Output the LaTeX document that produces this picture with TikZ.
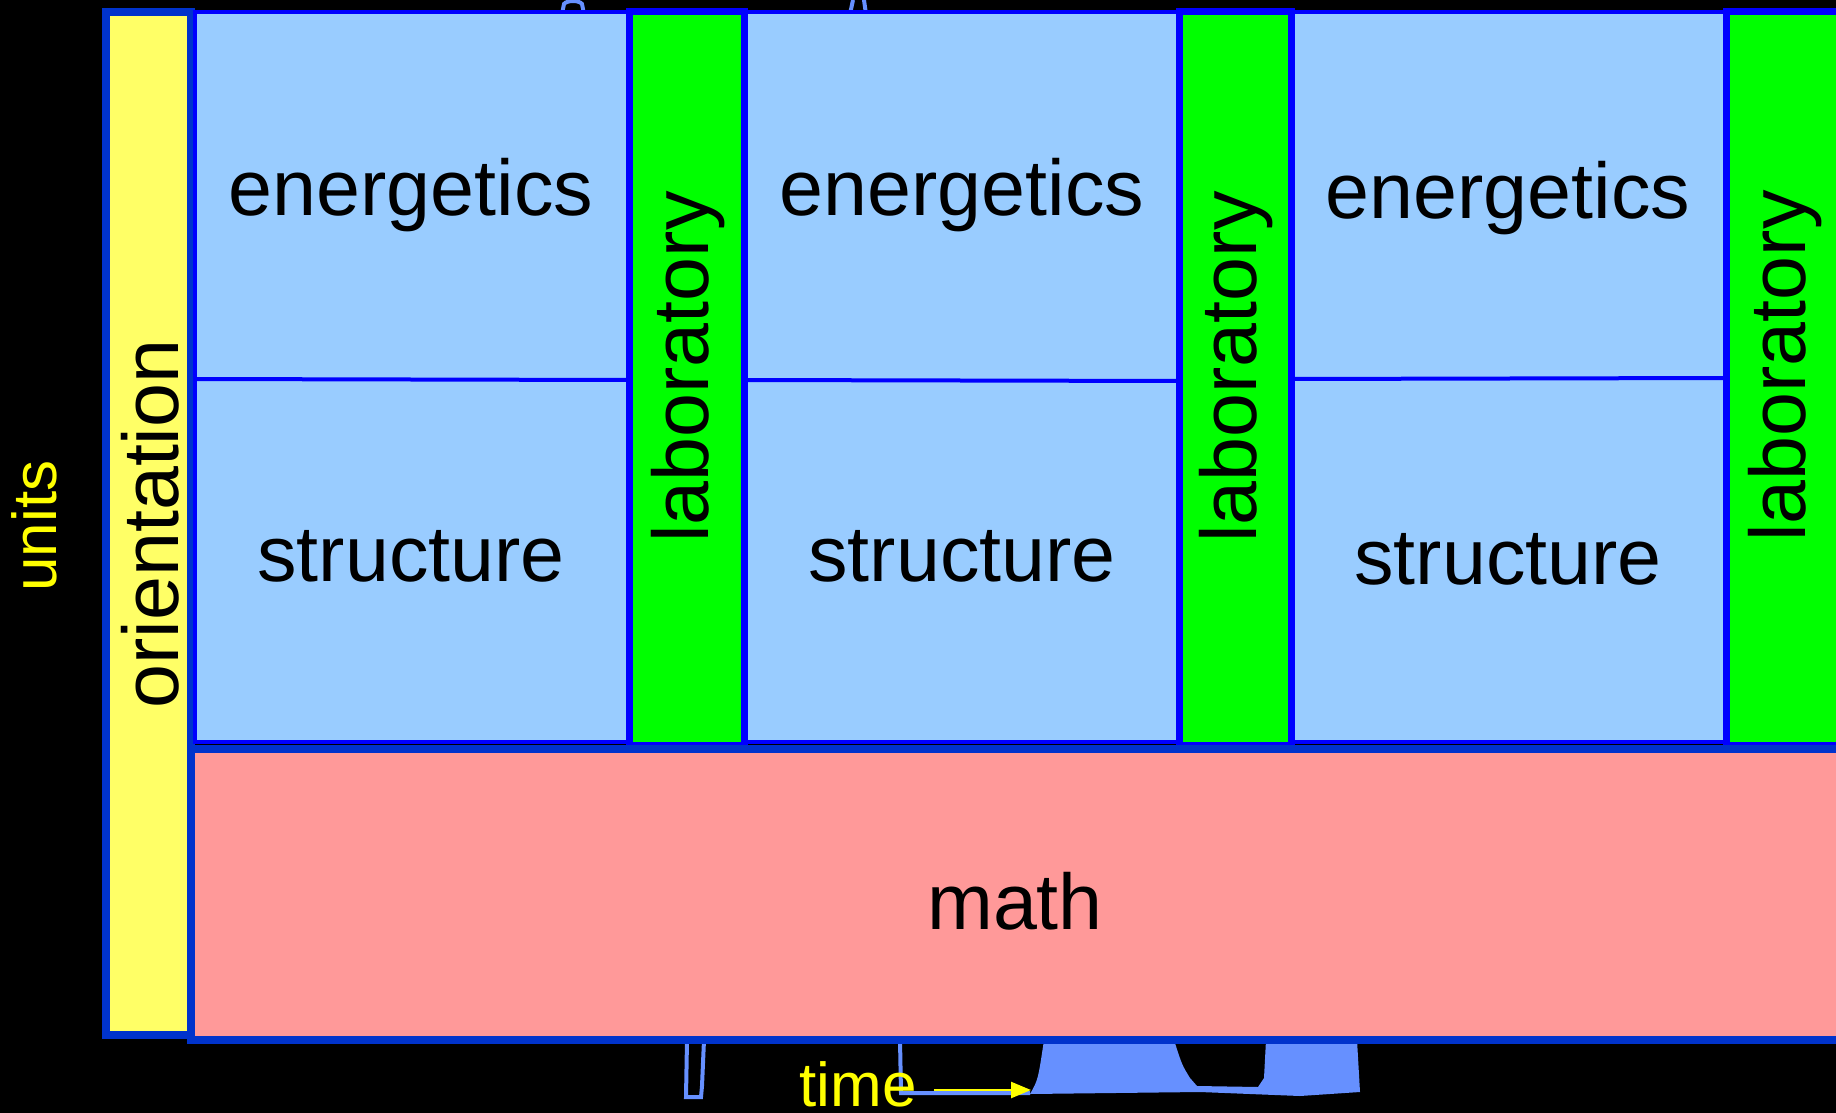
\documentclass[tikz,border=0pt]{standalone}
\usepackage{fontspec}
\setmainfont{Liberation Sans}
\usetikzlibrary{arrows.meta}
\definecolor{yfill}{HTML}{FFFF66}
\definecolor{bfill}{HTML}{99CCFF}
\definecolor{gfill}{HTML}{00FF00}
\definecolor{pfill}{HTML}{FF9999}
\definecolor{lblue}{HTML}{0000FF}
\definecolor{dblue}{HTML}{0033CC}
\definecolor{silh}{HTML}{6690FF}
\definecolor{tyellow}{HTML}{FFFF00}
\tikzset{
  colbox/.style={fill=bfill,draw=lblue,line width=2pt},
  labbox/.style={fill=gfill,draw=lblue,line width=3.5pt},
  outerbox/.style={draw=dblue,line width=3.75pt},
  bigtext/.style={font=\fontsize{39.5}{40}\selectfont,text=black,inner sep=0pt,anchor=base},
  ytext/.style={font=\fontsize{31}{32}\selectfont,text=tyellow,inner sep=0pt,anchor=base},
  silhline/.style={draw=silh,line width=2pt}
}
\begin{document}
\begin{tikzpicture}[x=0.5pt,y=-0.5pt]
\useasboundingbox (0,0) rectangle (1836,1113);
\fill[black] (0,0) rectangle (1836,1113);
% silhouette behind
\draw[silhline] (562,14) -- (564,4) .. controls (567,0) and (579,0) .. (582,4) -- (584,14);
\draw[silhline] (850,14) -- (853,0);
\draw[silhline] (866,14) -- (864,0);
\draw[silhline] (687,1040) -- (686,1097) -- (701,1097) -- (702,1086) -- (704,1040);
\draw[silhline] (900,1040) -- (901,1093) -- (1030,1093);
\fill[silh] (1044,1040) -- (1174,1040) .. controls (1182,1065) .. (1190,1078) -- (1197,1086) -- (1258,1087) -- (1264,1078) -- (1266,1040) -- (1357,1040) -- (1360,1092) -- (1300,1096) -- (1200,1092) -- (1030,1094) .. controls (1038,1080) .. (1044,1040) -- cycle;
% orientation
\filldraw[fill=yfill,outerbox] (106,12) rectangle (191,1035);
% columns
\draw[colbox] (195,12) rectangle (629,742);
\draw[colbox] (744,12) rectangle (1179,742);
\draw[colbox] (1291,12) rectangle (1726,742);
\draw[draw=lblue,line width=2pt] (195,379) -- (629,380);
\draw[draw=lblue,line width=2pt] (744,380) -- (1179,381);
\draw[draw=lblue,line width=2pt] (1291,379) -- (1726,378);
% labs
\draw[labbox] (629,12) rectangle (744,745);
\draw[labbox] (1179,12) rectangle (1291,745);
\draw[labbox] (1726,12) rectangle (1850,745);
% math
\filldraw[fill=pfill,outerbox] (191,749) rectangle (1850,1040);
% texts
\node[bigtext] (en1) at (411,215) {energetics};
\node[bigtext] (en2) at (962,215) {energetics};
\node[bigtext] (en3) at (1508,218) {energetics};
\node[bigtext] (st1) at (411,581) {structure};
\node[bigtext] (st2) at (962,581) {structure};
\node[bigtext] (st3) at (1508,584) {structure};
\node[bigtext] (ma) at (1015,929) {math};
\node[bigtext,rotate=90] (lab1) at (708,367) {laboratory};
\node[bigtext,rotate=90] (lab2) at (1256,367) {laboratory};
\node[bigtext,rotate=90] (lab3) at (1805,366) {laboratory};
\node[bigtext,rotate=90] (ori) at (178,524) {orientation};
\node[ytext,rotate=90] (units) at (56,526) {units};
\node[ytext] (time) at (858,1106) {time};
\coordinate (tstart) at (934,1090);
\coordinate (tend) at (1031,1090);
\draw[draw=tyellow,line width=1.2pt,-{Triangle[length=10pt,width=8pt]}] (tstart) -- (tend);
\end{tikzpicture}
\end{document}
